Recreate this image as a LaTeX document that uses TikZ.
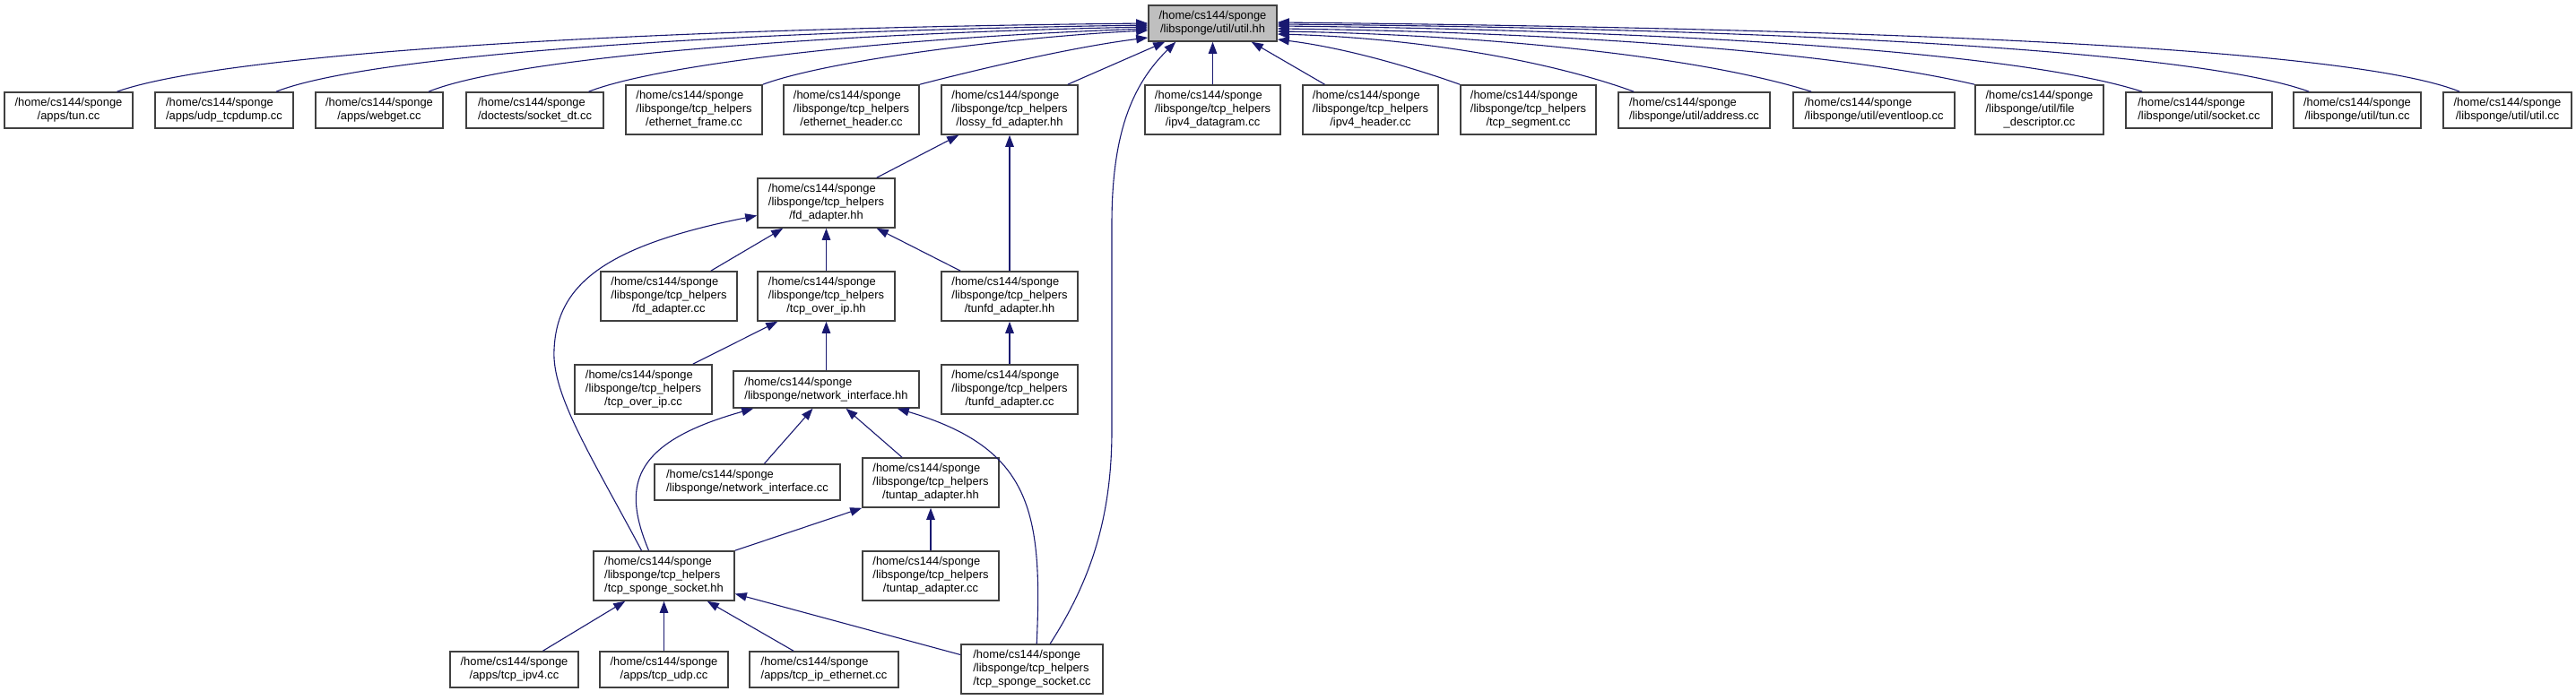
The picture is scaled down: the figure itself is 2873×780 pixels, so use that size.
\documentclass[tikz,border=0pt]{standalone}
\usepackage{fontspec}
\setmainfont{Liberation Sans}
\usetikzlibrary{arrows.meta}
\definecolor{edgec}{HTML}{191970}
\definecolor{boxc}{HTML}{404040}
\definecolor{utilfill}{HTML}{BFBFBF}
\newcommand{\twol}[2]{\begin{tabular}{@{}l@{}}#1\\\multicolumn{1}{@{}c@{}}{#2}\end{tabular}}
\newcommand{\threel}[3]{\begin{tabular}{@{}l@{}}#1\\#2\\\multicolumn{1}{@{}c@{}}{#3}\end{tabular}}
\newcommand{\hcs}{/home/cs144/sponge}
\newcommand{\tcph}{/libsponge/tcp\_helpers}
\newcommand{\fbx}[7][]{\node[filebox,#1,minimum width={#4pt-#3pt},minimum height={#6pt-#5pt}] (#2) at ({(#3+#4)/2},{(#5+#6)/2}) {#7};}
\begin{document}
\begin{tikzpicture}[x=1pt,y=-1pt,
  filebox/.style={draw=boxc,line width=1.6pt,fill=white,inner sep=0pt,font=\fontsize{12.9}{15}\selectfont},
  dep/.style={draw=edgec,line width=1.1pt,-{Triangle[length=13pt,width=9.5pt]}}]
\useasboundingbox (0,0) rectangle (2873,780);
% row 0
\fbx[fill=utilfill]{util}{1281}{1424}{6}{46}{\twol{\hcs}{/libsponge/util/util.hh}}
% row 1
\fbx{tun}{5}{148}{103}{143}{\twol{\hcs}{/apps/tun.cc}}
\fbx{udp}{173}{327}{103}{143}{\twol{\hcs}{/apps/udp\_tcpdump.cc}}
\fbx{webget}{352}{494}{103}{143}{\twol{\hcs}{/apps/webget.cc}}
\fbx{sockdt}{520}{673}{103}{143}{\twol{\hcs}{/doctests/socket\_dt.cc}}
\fbx{ethf}{698}{850}{95}{150}{\threel{\hcs}{\tcph}{/ethernet\_frame.cc}}
\fbx{ethh}{874}{1025}{95}{150}{\threel{\hcs}{\tcph}{/ethernet\_header.cc}}
\fbx{lossy}{1050}{1202}{95}{150}{\threel{\hcs}{\tcph}{/lossy\_fd\_adapter.hh}}
\fbx{ipd}{1277}{1428}{95}{150}{\threel{\hcs}{\tcph}{/ipv4\_datagram.cc}}
\fbx{iph}{1453}{1604}{95}{150}{\threel{\hcs}{\tcph}{/ipv4\_header.cc}}
\fbx{tseg}{1629}{1780}{95}{150}{\threel{\hcs}{\tcph}{/tcp\_segment.cc}}
\fbx{addr}{1805}{1974}{103}{143}{\twol{\hcs}{/libsponge/util/address.cc}}
\fbx{evl}{2000}{2180}{103}{143}{\twol{\hcs}{/libsponge/util/eventloop.cc}}
\fbx{fdesc}{2203}{2346}{95}{150}{\threel{\hcs}{/libsponge/util/file}{\_descriptor.cc}}
\fbx{sock}{2371}{2534}{103}{143}{\twol{\hcs}{/libsponge/util/socket.cc}}
\fbx{tuncc}{2558}{2700}{103}{143}{\twol{\hcs}{/libsponge/util/tun.cc}}
\fbx{utilcc}{2725}{2868}{103}{143}{\twol{\hcs}{/libsponge/util/util.cc}}
% lower rows
\fbx{fdh}{845}{998}{199}{254}{\threel{\hcs}{\tcph}{/fd\_adapter.hh}}
\fbx{fdc}{670}{822}{303}{358}{\threel{\hcs}{\tcph}{/fd\_adapter.cc}}
\fbx{toih}{845}{998}{303}{358}{\threel{\hcs}{\tcph}{/tcp\_over\_ip.hh}}
\fbx{tunfdh}{1050}{1202}{303}{358}{\threel{\hcs}{\tcph}{/tunfd\_adapter.hh}}
\fbx{toic}{641}{794}{407}{462}{\threel{\hcs}{\tcph}{/tcp\_over\_ip.cc}}
\fbx{nih}{818}{1025}{414}{455}{\twol{\hcs}{/libsponge/network\_interface.hh}}
\fbx{tunfdc}{1050}{1202}{407}{462}{\threel{\hcs}{\tcph}{/tunfd\_adapter.cc}}
\fbx{nic}{730}{937}{518}{558}{\twol{\hcs}{/libsponge/network\_interface.cc}}
\fbx{ttah}{962}{1114}{511}{566}{\threel{\hcs}{\tcph}{/tuntap\_adapter.hh}}
\fbx{tsh}{662}{819}{615}{670}{\threel{\hcs}{\tcph}{/tcp\_sponge\_socket.hh}}
\fbx{ttac}{962}{1114}{615}{670}{\threel{\hcs}{\tcph}{/tuntap\_adapter.cc}}
\fbx{ipv4app}{502}{645}{727}{767}{\twol{\hcs}{/apps/tcp\_ipv4.cc}}
\fbx{udpapp}{669}{812}{727}{767}{\twol{\hcs}{/apps/tcp\_udp.cc}}
\fbx{ethapp}{836}{1002}{727}{767}{\twol{\hcs}{/apps/tcp\_ip\_ethernet.cc}}
\fbx{tsc}{1072}{1230}{719}{774}{\threel{\hcs}{\tcph}{/tcp\_sponge\_socket.cc}}
% edges to util, left group
\draw[dep] ([xshift=54pt]tun.north) .. controls (250,60) and (700,32) .. ([yshift=0pt]util.west);
\draw[dep] ([xshift=58pt]udp.north) .. controls (410,62) and (800,35) .. ([yshift=-2pt]util.west);
\draw[dep] ([xshift=55pt]webget.north) .. controls (570,65) and (900,38) .. ([yshift=-4pt]util.west);
\draw[dep] ([xshift=60pt]sockdt.north) .. controls (740,70) and (1000,42) .. ([yshift=-6pt]util.west);
\draw[dep] (ethf.north east) .. controls (930,65) and (1150,40) .. ([yshift=-8pt]util.west);
\draw[dep] (ethh.north east) .. controls (1100,75) and (1200,52) .. ([yshift=-16pt]util.west);
\draw[dep] ([xshift=-12pt]lossy.north east) -- ([xshift=19pt]util.south west);
\draw[dep] (ipd.north) -- (util.south);
\draw[dep] ([xshift=-51pt]iph.north) -- ([xshift=-29pt]util.south east);
% right group
\draw[dep] (tseg.north west) .. controls (1560,70) and (1490,52) .. ([yshift=-18pt]util.east);
\draw[dep] ([xshift=18pt]addr.north west) .. controls (1720,65) and (1570,42) .. ([yshift=-12pt]util.east);
\draw[dep] ([xshift=21pt]evl.north west) .. controls (1880,58) and (1620,38) .. ([yshift=-9pt]util.east);
\draw[dep] (fdesc.north west) .. controls (2020,52) and (1680,35) .. ([yshift=-6pt]util.east);
\draw[dep] ([xshift=19pt]sock.north west) .. controls (2220,48) and (1720,32) .. ([yshift=-3pt]util.east);
\draw[dep] ([xshift=18pt]tuncc.north west) .. controls (2420,46) and (1800,30) .. ([yshift=-1pt]util.east);
\draw[dep] ([xshift=19pt]utilcc.north west) .. controls (2600,44) and (1900,30) .. ([yshift=1pt]util.east);
% tcp_sponge_socket.cc -> util
\draw[dep] ([xshift=100pt]tsc.north west) .. controls (1215,650) and (1240,580) .. (1240,480) -- (1240,250) .. controls (1240,150) and (1262,95) .. ([xshift=31pt]util.south west);
% middle
\draw[dep] ([xshift=-21pt]fdh.north east) -- ([xshift=20pt]lossy.south west);
\draw[dep] (tunfdh.north) -- (lossy.south);
\draw[dep] ([xshift=-30pt]fdc.north east) -- ([xshift=29pt]fdh.south west);
\draw[dep] (toih.north) -- (fdh.south);
\draw[dep] ([xshift=22pt]tunfdh.north west) -- ([xshift=-21pt]fdh.south east);
\draw[dep] ([xshift=-25pt]tsh.north) .. controls (660,510) and (615,440) .. (618,390) .. controls (621,320) and (670,275) .. ([yshift=-14pt]fdh.west);
\draw[dep] ([xshift=-22pt]toic.north east) -- ([xshift=23pt]toih.south west);
\draw[dep] (nih.north) -- (toih.south);
\draw[dep] (tunfdc.north) -- (tunfdh.south);
\draw[dep] ([xshift=19pt]nic.north) -- ([xshift=-15pt]nih.south);
\draw[dep] ([xshift=-32pt]ttah.north) -- ([xshift=22pt]nih.south);
\draw[dep] ([xshift=-17pt]tsh.north) .. controls (695,545) and (700,495) .. ([xshift=23pt]nih.south west);
\draw[dep] ([xshift=85pt]tsc.north west) .. controls (1163,570) and (1150,500) .. ([xshift=-25pt]nih.south east);
\draw[dep] (tsh.north east) -- (ttah.south west);
\draw[dep] (ttac.north) -- (ttah.south);
\draw[dep] ([xshift=32pt]ipv4app.north) -- ([xshift=36pt]tsh.south west);
\draw[dep] (udpapp.north) -- (tsh.south);
\draw[dep] ([xshift=-34pt]ethapp.north) -- ([xshift=-31pt]tsh.south east);
\draw[dep] ([yshift=16pt]tsc.west) -- ([yshift=-20pt]tsh.east);
\end{tikzpicture}
\end{document}
